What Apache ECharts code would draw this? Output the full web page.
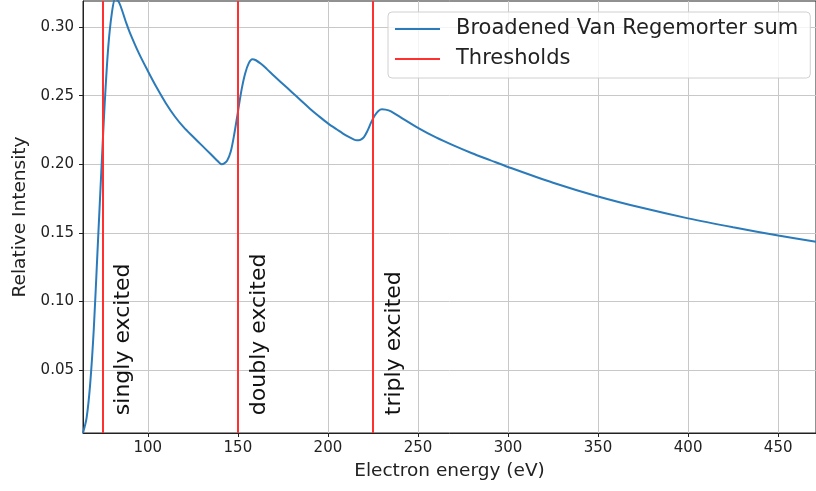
<!DOCTYPE html>
<html>
<head>
<meta charset="utf-8">
<script src="https://cdn.jsdelivr.net/npm/echarts@6/dist/echarts.min.js"></script>
<style>
  html, body { margin: 0; padding: 0; background: #fff; }
  #chart { width: 816px; height: 491px; }
</style>
</head>
<body>
<div id="chart"></div>
<script>
// energies (eV) and broadened intensity
const energy = [64, 66, 68, 70, 72, 74, 76, 78, 80, 82, 84, 86, 88, 90, 95, 100, 105, 110, 115, 120,
  125, 130, 135, 138, 140, 141, 142, 144, 146, 148, 150, 152, 154, 156, 158, 160, 163, 166, 170, 175, 180,
  185, 190, 195, 200, 205, 210, 214, 216, 218, 220, 222, 224, 226, 228, 230, 232, 235, 240, 250, 260,
  270, 280, 290, 300, 325, 350, 375, 400, 425, 450, 471];
const intensity = [0.004, 0.015, 0.040, 0.080, 0.135, 0.190, 0.243, 0.285, 0.310, 0.321, 0.318, 0.311, 0.303, 0.296, 0.281, 0.268, 0.2557, 0.2445, 0.2348, 0.2268,
  0.2202, 0.2137, 0.2072, 0.2033, 0.2007, 0.200, 0.2002, 0.2025, 0.209, 0.222, 0.238, 0.254, 0.266, 0.2735, 0.2765, 0.2758, 0.273, 0.2695, 0.2645, 0.2585, 0.2525,
  0.2465, 0.2405, 0.235, 0.2298, 0.2253, 0.221, 0.2183, 0.2174, 0.2178, 0.2198, 0.2245, 0.2305, 0.2355, 0.2388, 0.2400, 0.2398, 0.2385, 0.2345, 0.2265, 0.2195,
  0.2135, 0.208, 0.203, 0.198, 0.1865, 0.1765, 0.168, 0.1605, 0.154, 0.148, 0.1435];

const thresholds = [75, 150, 225];
const thresholdLabels = ['singly excited', 'doubly excited', 'triply excited'];

const xTicks = [100, 150, 200, 250, 300, 350, 400, 450];
const yTicks = [0.05, 0.10, 0.15, 0.20, 0.25, 0.30];

const chart = echarts.init(document.getElementById('chart'));

const option = {
  animation: false,
  textStyle: { fontFamily: 'DejaVu Sans' },
  grid: {
    left: 83, right: -2, top: 1, bottom: 58,
    show: true, borderColor: '#222', borderWidth: 1
  },
  legend: {
    left: 388, top: 12,
    orient: 'vertical',
    icon: 'rect',
    itemWidth: 45, itemHeight: 2, itemGap: 4,
    padding: [4, 12, 6, 7],
    borderColor: '#d0d0d0', borderWidth: 1, borderRadius: 4,
    backgroundColor: 'rgba(255,255,255,0.8)',
    textStyle: { fontSize: 21, color: '#222', lineHeight: 26, padding: [0, 0, 0, 11] },
    data: ['Broadened Van Regemorter sum', 'Thresholds']
  },
  xAxis: {
    type: 'value',
    min: 64, max: 471,
    name: 'Electron energy (eV)',
    nameLocation: 'middle', nameGap: 29,
    nameTextStyle: { fontSize: 18.5, color: '#222' },
    axisLine: { show: true, lineStyle: { color: '#222' } },
    axisTick: { show: true, length: 4, customValues: xTicks, lineStyle: { color: '#222' } },
    axisLabel: { customValues: xTicks, fontSize: 15, color: '#222', margin: 8 },
    splitLine: { show: true, lineStyle: { color: '#c8c8c8', width: 1 } }
  },
  yAxis: {
    type: 'value',
    min: 0.004, max: 0.319,
    name: 'Relative Intensity',
    nameLocation: 'middle', nameGap: 51,
    nameTextStyle: { fontSize: 18.5, color: '#222' },
    axisLine: { show: true, lineStyle: { color: '#222' } },
    axisTick: { show: true, length: 4, customValues: yTicks, lineStyle: { color: '#222' } },
    axisLabel: { customValues: yTicks, fontSize: 15, color: '#222', margin: 9,
      formatter: v => v.toFixed(2) },
    splitLine: { show: true, lineStyle: { color: '#c8c8c8', width: 1 } }
  },
  series: [
    {
      name: 'Broadened Van Regemorter sum',
      type: 'line',
      data: energy.map((e, i) => [e, intensity[i]]),
      smooth: 0.3,
      showSymbol: false,
      clip: true,
      color: '#2b7bba',
      lineStyle: { width: 2, color: '#2b7bba' }
    },
    {
      name: 'Thresholds',
      type: 'line',
      data: [],
      color: '#ff3030',
      markLine: {
        silent: true,
        symbol: 'none',
        label: { show: false },
        lineStyle: { type: 'solid', color: '#ff3030', width: 2 },
        data: thresholds.map(t => ({ xAxis: t }))
      }
    }
  ]
};

chart.setOption(option);

// rotated labels next to each threshold line
const labels = thresholds.map((t, i) => {
  const p = chart.convertToPixel({ gridIndex: 0 }, [t + 5.5, 0.017]);
  return {
    type: 'text',
    x: p[0], y: p[1],
    rotation: Math.PI / 2,
    style: {
      text: thresholdLabels[i],
      font: '22px "DejaVu Sans"',
      fill: '#111',
      align: 'left',
      verticalAlign: 'top'
    }
  };
});
chart.setOption({ graphic: labels });
</script>
</body>
</html>
